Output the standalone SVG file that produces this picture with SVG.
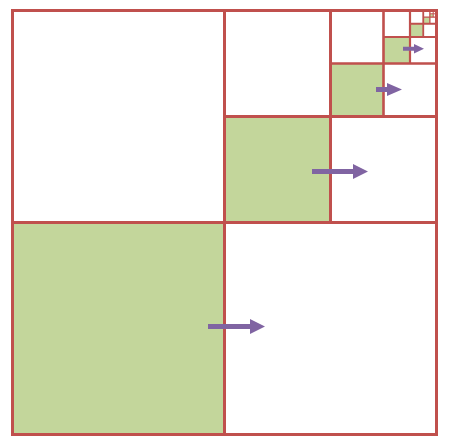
<svg xmlns="http://www.w3.org/2000/svg" width="451" height="448" viewBox="0 0 451 448">
<style>
.g{fill:#c3d69b;stroke:none}
.l{stroke:#c0504d;fill:none}
.a{fill:#8064a2}
</style>
<rect width="451" height="448" fill="#fff"/>
<g id="fills">
<rect class="g" x="12.5" y="222.5" width="212" height="212"/>
<rect class="g" x="224.5" y="116.5" width="106" height="106"/>
<rect class="g" x="330.5" y="63.5" width="53" height="53"/>
<rect class="g" x="383.5" y="37" width="26.5" height="26.5"/>
<rect class="g" x="410" y="23.75" width="13.25" height="13.25"/>
<rect class="g" x="423.25" y="17.125" width="6.625" height="6.625"/>
<rect class="g" x="429.875" y="13.81" width="3.31" height="3.31"/>
</g>
<g id="grid">
<rect class="l" x="12.5" y="10.5" width="424" height="424" stroke-width="3"/>
<path class="l" stroke-width="3" d="M224.5 10.5V434.5M12.5 222.5H436.5"/>
<path class="l" stroke-width="3" d="M330.5 10.5V222.5M224.5 116.5H436.5"/>
<path class="l" stroke-width="2.6" d="M383.5 10.5V116.5M330.5 63.5H436.5"/>
<path class="l" stroke-width="2.2" d="M410 10.5V63.5M383.5 37H436.5"/>
<path class="l" stroke-width="1.8" d="M423.25 10.5V37M410 23.75H436.5"/>
<path class="l" stroke-width="1.3" d="M429.875 10.5V23.75M423.25 17.125H436.5"/>
<path class="l" stroke-width="1" d="M433.19 10.5V17.125M429.875 13.81H436.5"/>
</g>
<g id="connectors">
<path class="a" d="M208 324H250V319L265 326.5L250 334V329H208Z"/>
<path class="a" d="M312 169H353V164L368 171.5L353 179V174H312Z"/>
<path class="a" d="M376 87H387V83L402 89.5L387 96V92H376Z"/>
<path class="a" d="M403 46.7H414V44L424 48.7L414 53.4V50.7H403Z"/>
</g>
</svg>
